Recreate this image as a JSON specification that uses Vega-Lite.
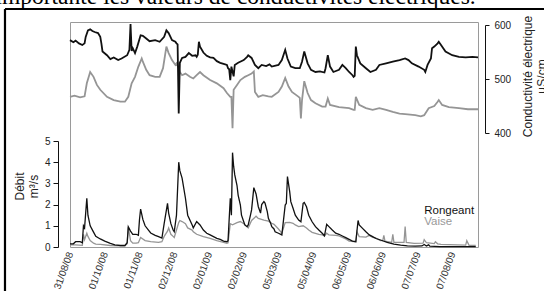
{
"$schema": "https://vega.github.io/schema/vega-lite/v6.json",
"width": 408,
"height": 225,
"autosize": {"type": "none"},
"padding": {"left": 70, "top": 22, "right": 66, "bottom": 44},
"background": "white",
"config": {"view": {"stroke": "#9a9a9a", "strokeWidth": 1}, "font": "Liberation Sans", "axis": {"grid": false, "labelFont": "Liberation Sans", "titleFont": "Liberation Sans"}},
"datasets": {
"cond": [
{"date":"2008-08-31","site":"Vaise","value":467},{"date":"2008-09-04","site":"Vaise","value":469},{"date":"2008-09-09","site":"Vaise","value":466},{"date":"2008-09-13","site":"Vaise","value":468},{"date":"2008-09-15","site":"Vaise","value":492},{"date":"2008-09-18","site":"Vaise","value":513},{"date":"2008-09-21","site":"Vaise","value":504},{"date":"2008-09-24","site":"Vaise","value":489},{"date":"2008-09-27","site":"Vaise","value":480},{"date":"2008-10-03","site":"Vaise","value":467},{"date":"2008-10-09","site":"Vaise","value":461},{"date":"2008-10-15","site":"Vaise","value":458},{"date":"2008-10-19","site":"Vaise","value":458},{"date":"2008-10-22","site":"Vaise","value":467},{"date":"2008-10-25","site":"Vaise","value":492},{"date":"2008-10-28","site":"Vaise","value":504},{"date":"2008-10-31","site":"Vaise","value":523},{"date":"2008-11-03","site":"Vaise","value":538},{"date":"2008-11-04","site":"Vaise","value":532},{"date":"2008-11-07","site":"Vaise","value":517},{"date":"2008-11-10","site":"Vaise","value":507},{"date":"2008-11-15","site":"Vaise","value":504},{"date":"2008-11-19","site":"Vaise","value":504},{"date":"2008-11-22","site":"Vaise","value":520},{"date":"2008-11-25","site":"Vaise","value":560},{"date":"2008-11-27","site":"Vaise","value":548},{"date":"2008-11-30","site":"Vaise","value":535},{"date":"2008-12-03","site":"Vaise","value":526},{"date":"2008-12-04","site":"Vaise","value":529},{"date":"2008-12-06","site":"Vaise","value":520},{"date":"2008-12-07","site":"Vaise","value":513},{"date":"2008-12-09","site":"Vaise","value":507},{"date":"2008-12-12","site":"Vaise","value":510},{"date":"2008-12-16","site":"Vaise","value":504},{"date":"2008-12-19","site":"Vaise","value":501},{"date":"2008-12-22","site":"Vaise","value":507},{"date":"2008-12-25","site":"Vaise","value":513},{"date":"2008-12-28","site":"Vaise","value":507},{"date":"2009-01-03","site":"Vaise","value":498},{"date":"2009-01-09","site":"Vaise","value":492},{"date":"2009-01-15","site":"Vaise","value":483},{"date":"2009-01-18","site":"Vaise","value":474},{"date":"2009-01-21","site":"Vaise","value":467},{"date":"2009-01-22","site":"Vaise","value":467},{"date":"2009-01-23","site":"Vaise","value":409},{"date":"2009-01-24","site":"Vaise","value":480},{"date":"2009-01-27","site":"Vaise","value":489},{"date":"2009-01-30","site":"Vaise","value":498},{"date":"2009-02-03","site":"Vaise","value":504},{"date":"2009-02-06","site":"Vaise","value":507},{"date":"2009-02-09","site":"Vaise","value":510},{"date":"2009-02-11","site":"Vaise","value":514},{"date":"2009-02-12","site":"Vaise","value":476},{"date":"2009-02-15","site":"Vaise","value":467},{"date":"2009-02-19","site":"Vaise","value":470},{"date":"2009-02-24","site":"Vaise","value":468},{"date":"2009-02-27","site":"Vaise","value":467},{"date":"2009-03-05","site":"Vaise","value":476},{"date":"2009-03-08","site":"Vaise","value":486},{"date":"2009-03-11","site":"Vaise","value":502},{"date":"2009-03-14","site":"Vaise","value":486},{"date":"2009-03-17","site":"Vaise","value":476},{"date":"2009-03-23","site":"Vaise","value":467},{"date":"2009-03-24","site":"Vaise","value":465},{"date":"2009-03-25","site":"Vaise","value":427},{"date":"2009-03-26","site":"Vaise","value":461},{"date":"2009-03-28","site":"Vaise","value":496},{"date":"2009-03-31","site":"Vaise","value":474},{"date":"2009-04-03","site":"Vaise","value":461},{"date":"2009-04-07","site":"Vaise","value":455},{"date":"2009-04-13","site":"Vaise","value":449},{"date":"2009-04-16","site":"Vaise","value":449},{"date":"2009-04-18","site":"Vaise","value":464},{"date":"2009-04-20","site":"Vaise","value":452},{"date":"2009-04-28","site":"Vaise","value":448},{"date":"2009-05-07","site":"Vaise","value":446},{"date":"2009-05-11","site":"Vaise","value":443},{"date":"2009-05-12","site":"Vaise","value":443},{"date":"2009-05-13","site":"Vaise","value":467},{"date":"2009-05-16","site":"Vaise","value":452},{"date":"2009-05-22","site":"Vaise","value":446},{"date":"2009-05-28","site":"Vaise","value":443},{"date":"2009-06-03","site":"Vaise","value":446},{"date":"2009-06-09","site":"Vaise","value":443},{"date":"2009-06-15","site":"Vaise","value":439},{"date":"2009-06-21","site":"Vaise","value":436},{"date":"2009-06-26","site":"Vaise","value":435},{"date":"2009-07-05","site":"Vaise","value":433},{"date":"2009-07-10","site":"Vaise","value":431},{"date":"2009-07-13","site":"Vaise","value":433},{"date":"2009-07-17","site":"Vaise","value":446},{"date":"2009-07-22","site":"Vaise","value":450},{"date":"2009-07-25","site":"Vaise","value":458},{"date":"2009-07-26","site":"Vaise","value":461},{"date":"2009-07-29","site":"Vaise","value":452},{"date":"2009-08-04","site":"Vaise","value":448},{"date":"2009-08-13","site":"Vaise","value":446},{"date":"2009-08-21","site":"Vaise","value":444},{"date":"2009-08-30","site":"Vaise","value":444},
{"date":"2008-08-31","site":"Rongeant","value":572},{"date":"2008-09-03","site":"Rongeant","value":568},{"date":"2008-09-05","site":"Rongeant","value":571},{"date":"2008-09-08","site":"Rongeant","value":566},{"date":"2008-09-11","site":"Rongeant","value":563},{"date":"2008-09-13","site":"Rongeant","value":566},{"date":"2008-09-14","site":"Rongeant","value":578},{"date":"2008-09-16","site":"Rongeant","value":590},{"date":"2008-09-18","site":"Rongeant","value":592},{"date":"2008-09-20","site":"Rongeant","value":589},{"date":"2008-09-22","site":"Rongeant","value":587},{"date":"2008-09-25","site":"Rongeant","value":585},{"date":"2008-09-27","site":"Rongeant","value":578},{"date":"2008-09-28","site":"Rongeant","value":566},{"date":"2008-09-29","site":"Rongeant","value":551},{"date":"2008-10-03","site":"Rongeant","value":544},{"date":"2008-10-06","site":"Rongeant","value":537},{"date":"2008-10-09","site":"Rongeant","value":540},{"date":"2008-10-13","site":"Rongeant","value":535},{"date":"2008-10-16","site":"Rongeant","value":538},{"date":"2008-10-21","site":"Rongeant","value":544},{"date":"2008-10-23","site":"Rongeant","value":554},{"date":"2008-10-24","site":"Rongeant","value":602},{"date":"2008-10-25","site":"Rongeant","value":552},{"date":"2008-10-26","site":"Rongeant","value":557},{"date":"2008-10-28","site":"Rongeant","value":548},{"date":"2008-10-30","site":"Rongeant","value":560},{"date":"2008-11-02","site":"Rongeant","value":581},{"date":"2008-11-04","site":"Rongeant","value":580},{"date":"2008-11-07","site":"Rongeant","value":575},{"date":"2008-11-10","site":"Rongeant","value":570},{"date":"2008-11-15","site":"Rongeant","value":572},{"date":"2008-11-19","site":"Rongeant","value":569},{"date":"2008-11-23","site":"Rongeant","value":578},{"date":"2008-11-25","site":"Rongeant","value":590},{"date":"2008-11-27","site":"Rongeant","value":585},{"date":"2008-11-30","site":"Rongeant","value":572},{"date":"2008-12-03","site":"Rongeant","value":569},{"date":"2008-12-04","site":"Rongeant","value":566},{"date":"2008-12-05","site":"Rongeant","value":564},{"date":"2008-12-06","site":"Rongeant","value":436},{"date":"2008-12-07","site":"Rongeant","value":530},{"date":"2008-12-09","site":"Rongeant","value":539},{"date":"2008-12-12","site":"Rongeant","value":541},{"date":"2008-12-15","site":"Rongeant","value":548},{"date":"2008-12-18","site":"Rongeant","value":543},{"date":"2008-12-21","site":"Rongeant","value":544},{"date":"2008-12-22","site":"Rongeant","value":541},{"date":"2008-12-23","site":"Rongeant","value":545},{"date":"2008-12-24","site":"Rongeant","value":569},{"date":"2008-12-25","site":"Rongeant","value":560},{"date":"2008-12-28","site":"Rongeant","value":549},{"date":"2008-12-31","site":"Rongeant","value":543},{"date":"2009-01-03","site":"Rongeant","value":540},{"date":"2009-01-06","site":"Rongeant","value":539},{"date":"2009-01-09","site":"Rongeant","value":533},{"date":"2009-01-12","site":"Rongeant","value":530},{"date":"2009-01-15","site":"Rongeant","value":528},{"date":"2009-01-18","site":"Rongeant","value":526},{"date":"2009-01-19","site":"Rongeant","value":520},{"date":"2009-01-20","site":"Rongeant","value":518},{"date":"2009-01-21","site":"Rongeant","value":498},{"date":"2009-01-22","site":"Rongeant","value":523},{"date":"2009-01-24","site":"Rongeant","value":505},{"date":"2009-01-25","site":"Rongeant","value":526},{"date":"2009-01-28","site":"Rongeant","value":530},{"date":"2009-02-02","site":"Rongeant","value":535},{"date":"2009-02-05","site":"Rongeant","value":541},{"date":"2009-02-06","site":"Rongeant","value":544},{"date":"2009-02-09","site":"Rongeant","value":539},{"date":"2009-02-12","site":"Rongeant","value":526},{"date":"2009-02-15","site":"Rongeant","value":520},{"date":"2009-02-18","site":"Rongeant","value":526},{"date":"2009-02-22","site":"Rongeant","value":524},{"date":"2009-02-25","site":"Rongeant","value":527},{"date":"2009-02-27","site":"Rongeant","value":523},{"date":"2009-03-05","site":"Rongeant","value":526},{"date":"2009-03-08","site":"Rongeant","value":535},{"date":"2009-03-11","site":"Rongeant","value":554},{"date":"2009-03-13","site":"Rongeant","value":538},{"date":"2009-03-16","site":"Rongeant","value":523},{"date":"2009-03-20","site":"Rongeant","value":520},{"date":"2009-03-24","site":"Rongeant","value":520},{"date":"2009-03-26","site":"Rongeant","value":532},{"date":"2009-03-28","site":"Rongeant","value":551},{"date":"2009-03-31","site":"Rongeant","value":529},{"date":"2009-04-03","site":"Rongeant","value":517},{"date":"2009-04-07","site":"Rongeant","value":513},{"date":"2009-04-11","site":"Rongeant","value":514},{"date":"2009-04-15","site":"Rongeant","value":512},{"date":"2009-04-16","site":"Rongeant","value":520},{"date":"2009-04-18","site":"Rongeant","value":544},{"date":"2009-04-20","site":"Rongeant","value":523},{"date":"2009-04-23","site":"Rongeant","value":513},{"date":"2009-04-28","site":"Rongeant","value":517},{"date":"2009-05-01","site":"Rongeant","value":526},{"date":"2009-05-04","site":"Rongeant","value":520},{"date":"2009-05-07","site":"Rongeant","value":513},{"date":"2009-05-10","site":"Rongeant","value":507},{"date":"2009-05-11","site":"Rongeant","value":504},{"date":"2009-05-12","site":"Rongeant","value":506},{"date":"2009-05-13","site":"Rongeant","value":560},{"date":"2009-05-14","site":"Rongeant","value":544},{"date":"2009-05-17","site":"Rongeant","value":529},{"date":"2009-05-22","site":"Rongeant","value":520},{"date":"2009-05-26","site":"Rongeant","value":513},{"date":"2009-05-31","site":"Rongeant","value":517},{"date":"2009-06-03","site":"Rongeant","value":526},{"date":"2009-06-09","site":"Rongeant","value":529},{"date":"2009-06-15","site":"Rongeant","value":532},{"date":"2009-06-21","site":"Rongeant","value":535},{"date":"2009-06-26","site":"Rongeant","value":538},{"date":"2009-06-29","site":"Rongeant","value":535},{"date":"2009-07-02","site":"Rongeant","value":529},{"date":"2009-07-08","site":"Rongeant","value":523},{"date":"2009-07-13","site":"Rongeant","value":517},{"date":"2009-07-14","site":"Rongeant","value":513},{"date":"2009-07-16","site":"Rongeant","value":526},{"date":"2009-07-19","site":"Rongeant","value":538},{"date":"2009-07-20","site":"Rongeant","value":557},{"date":"2009-07-22","site":"Rongeant","value":560},{"date":"2009-07-25","site":"Rongeant","value":566},{"date":"2009-07-26","site":"Rongeant","value":569},{"date":"2009-07-28","site":"Rongeant","value":563},{"date":"2009-08-01","site":"Rongeant","value":551},{"date":"2009-08-07","site":"Rongeant","value":544},{"date":"2009-08-13","site":"Rongeant","value":541},{"date":"2009-08-19","site":"Rongeant","value":540},{"date":"2009-08-25","site":"Rongeant","value":541},{"date":"2009-08-30","site":"Rongeant","value":540}
],
"debit": [
{"date":"2008-08-31","site":"Vaise","value":0.1},{"date":"2008-09-05","site":"Vaise","value":0.1},{"date":"2008-09-11","site":"Vaise","value":0.08},{"date":"2008-09-12","site":"Vaise","value":0.6},{"date":"2008-09-13","site":"Vaise","value":0.35},{"date":"2008-09-15","site":"Vaise","value":0.65},{"date":"2008-09-16","site":"Vaise","value":0.5},{"date":"2008-09-18","site":"Vaise","value":0.3},{"date":"2008-09-21","site":"Vaise","value":0.18},{"date":"2008-09-23","site":"Vaise","value":0.14},{"date":"2008-09-27","site":"Vaise","value":0.12},{"date":"2008-10-06","site":"Vaise","value":0.07},{"date":"2008-10-15","site":"Vaise","value":0.05},{"date":"2008-10-19","site":"Vaise","value":0.05},{"date":"2008-10-21","site":"Vaise","value":0.15},{"date":"2008-10-22","site":"Vaise","value":0.95},{"date":"2008-10-24","site":"Vaise","value":0.3},{"date":"2008-10-26","site":"Vaise","value":0.18},{"date":"2008-10-29","site":"Vaise","value":0.18},{"date":"2008-10-31","site":"Vaise","value":0.2},{"date":"2008-11-02","site":"Vaise","value":0.45},{"date":"2008-11-06","site":"Vaise","value":0.3},{"date":"2008-11-11","site":"Vaise","value":0.25},{"date":"2008-11-18","site":"Vaise","value":0.22},{"date":"2008-11-21","site":"Vaise","value":0.25},{"date":"2008-11-23","site":"Vaise","value":0.5},{"date":"2008-11-26","site":"Vaise","value":0.75},{"date":"2008-11-27","site":"Vaise","value":0.9},{"date":"2008-11-29","site":"Vaise","value":0.6},{"date":"2008-12-01","site":"Vaise","value":0.5},{"date":"2008-12-02","site":"Vaise","value":0.45},{"date":"2008-12-04","site":"Vaise","value":0.8},{"date":"2008-12-06","site":"Vaise","value":1.15},{"date":"2008-12-07","site":"Vaise","value":1.25},{"date":"2008-12-09","site":"Vaise","value":1.2},{"date":"2008-12-12","site":"Vaise","value":1.1},{"date":"2008-12-14","site":"Vaise","value":0.9},{"date":"2008-12-18","site":"Vaise","value":0.8},{"date":"2008-12-19","site":"Vaise","value":0.72},{"date":"2008-12-22","site":"Vaise","value":0.6},{"date":"2008-12-28","site":"Vaise","value":0.49},{"date":"2009-01-03","site":"Vaise","value":0.41},{"date":"2009-01-09","site":"Vaise","value":0.3},{"date":"2009-01-15","site":"Vaise","value":0.22},{"date":"2009-01-18","site":"Vaise","value":0.17},{"date":"2009-01-19","site":"Vaise","value":0.2},{"date":"2009-01-21","site":"Vaise","value":1.1},{"date":"2009-01-23","site":"Vaise","value":1.05},{"date":"2009-01-27","site":"Vaise","value":1.15},{"date":"2009-01-30","site":"Vaise","value":1.2},{"date":"2009-02-02","site":"Vaise","value":1.1},{"date":"2009-02-05","site":"Vaise","value":0.95},{"date":"2009-02-06","site":"Vaise","value":0.9},{"date":"2009-02-09","site":"Vaise","value":1.25},{"date":"2009-02-13","site":"Vaise","value":1.45},{"date":"2009-02-15","site":"Vaise","value":1.35},{"date":"2009-02-20","site":"Vaise","value":1.27},{"date":"2009-02-24","site":"Vaise","value":1.22},{"date":"2009-02-27","site":"Vaise","value":1.12},{"date":"2009-03-01","site":"Vaise","value":1.07},{"date":"2009-03-05","site":"Vaise","value":0.85},{"date":"2009-03-08","site":"Vaise","value":0.65},{"date":"2009-03-11","site":"Vaise","value":1.15},{"date":"2009-03-15","site":"Vaise","value":1.16},{"date":"2009-03-18","site":"Vaise","value":1.12},{"date":"2009-03-20","site":"Vaise","value":1.04},{"date":"2009-03-23","site":"Vaise","value":0.96},{"date":"2009-03-27","site":"Vaise","value":1.0},{"date":"2009-03-30","site":"Vaise","value":0.9},{"date":"2009-04-01","site":"Vaise","value":0.8},{"date":"2009-04-04","site":"Vaise","value":0.69},{"date":"2009-04-10","site":"Vaise","value":0.6},{"date":"2009-04-13","site":"Vaise","value":0.57},{"date":"2009-04-15","site":"Vaise","value":0.52},{"date":"2009-04-17","site":"Vaise","value":0.65},{"date":"2009-04-19","site":"Vaise","value":0.57},{"date":"2009-04-25","site":"Vaise","value":0.55},{"date":"2009-04-28","site":"Vaise","value":0.52},{"date":"2009-05-01","site":"Vaise","value":0.45},{"date":"2009-05-04","site":"Vaise","value":0.38},{"date":"2009-05-07","site":"Vaise","value":0.28},{"date":"2009-05-13","site":"Vaise","value":0.25},{"date":"2009-05-14","site":"Vaise","value":0.72},{"date":"2009-05-16","site":"Vaise","value":0.49},{"date":"2009-05-22","site":"Vaise","value":0.47},{"date":"2009-05-25","site":"Vaise","value":0.55},{"date":"2009-05-28","site":"Vaise","value":0.45},{"date":"2009-05-31","site":"Vaise","value":0.42},{"date":"2009-06-04","site":"Vaise","value":0.3},{"date":"2009-06-06","site":"Vaise","value":0.3},{"date":"2009-06-07","site":"Vaise","value":0.55},{"date":"2009-06-08","site":"Vaise","value":0.28},{"date":"2009-06-14","site":"Vaise","value":0.22},{"date":"2009-06-15","site":"Vaise","value":0.6},{"date":"2009-06-16","site":"Vaise","value":0.22},{"date":"2009-06-22","site":"Vaise","value":0.22},{"date":"2009-06-25","site":"Vaise","value":0.22},{"date":"2009-06-26","site":"Vaise","value":0.96},{"date":"2009-06-27","site":"Vaise","value":0.22},{"date":"2009-07-04","site":"Vaise","value":0.17},{"date":"2009-07-12","site":"Vaise","value":0.18},{"date":"2009-07-13","site":"Vaise","value":0.35},{"date":"2009-07-15","site":"Vaise","value":0.2},{"date":"2009-07-22","site":"Vaise","value":0.16},{"date":"2009-07-23","site":"Vaise","value":0.25},{"date":"2009-07-25","site":"Vaise","value":0.15},{"date":"2009-07-28","site":"Vaise","value":0.12},{"date":"2009-08-12","site":"Vaise","value":0.1},{"date":"2009-08-19","site":"Vaise","value":0.09},{"date":"2009-08-20","site":"Vaise","value":0.3},{"date":"2009-08-22","site":"Vaise","value":0.08},{"date":"2009-08-28","site":"Vaise","value":0.07},
{"date":"2008-08-31","site":"Rongeant","value":0.15},{"date":"2008-09-03","site":"Rongeant","value":0.15},{"date":"2008-09-05","site":"Rongeant","value":0.25},{"date":"2008-09-09","site":"Rongeant","value":0.25},{"date":"2008-09-11","site":"Rongeant","value":0.2},{"date":"2008-09-12","site":"Rongeant","value":1.0},{"date":"2008-09-13","site":"Rongeant","value":0.9},{"date":"2008-09-15","site":"Rongeant","value":2.3},{"date":"2008-09-16","site":"Rongeant","value":1.5},{"date":"2008-09-18","site":"Rongeant","value":1.0},{"date":"2008-09-21","site":"Rongeant","value":0.7},{"date":"2008-09-23","site":"Rongeant","value":0.5},{"date":"2008-09-27","site":"Rongeant","value":0.38},{"date":"2008-10-01","site":"Rongeant","value":0.28},{"date":"2008-10-06","site":"Rongeant","value":0.17},{"date":"2008-10-10","site":"Rongeant","value":0.1},{"date":"2008-10-15","site":"Rongeant","value":0.07},{"date":"2008-10-19","site":"Rongeant","value":0.07},{"date":"2008-10-21","site":"Rongeant","value":0.2},{"date":"2008-10-22","site":"Rongeant","value":0.95},{"date":"2008-10-24","site":"Rongeant","value":0.75},{"date":"2008-10-26","site":"Rongeant","value":0.6},{"date":"2008-10-29","site":"Rongeant","value":0.6},{"date":"2008-10-31","site":"Rongeant","value":0.55},{"date":"2008-11-01","site":"Rongeant","value":1.3},{"date":"2008-11-02","site":"Rongeant","value":1.79},{"date":"2008-11-04","site":"Rongeant","value":1.3},{"date":"2008-11-06","site":"Rongeant","value":1.0},{"date":"2008-11-09","site":"Rongeant","value":0.8},{"date":"2008-11-11","site":"Rongeant","value":0.66},{"date":"2008-11-15","site":"Rongeant","value":0.55},{"date":"2008-11-18","site":"Rongeant","value":0.49},{"date":"2008-11-21","site":"Rongeant","value":0.42},{"date":"2008-11-23","site":"Rongeant","value":1.1},{"date":"2008-11-26","site":"Rongeant","value":2.06},{"date":"2008-11-27","site":"Rongeant","value":1.6},{"date":"2008-11-29","site":"Rongeant","value":1.1},{"date":"2008-12-01","site":"Rongeant","value":0.8},{"date":"2008-12-02","site":"Rongeant","value":0.72},{"date":"2008-12-04","site":"Rongeant","value":1.5},{"date":"2008-12-06","site":"Rongeant","value":4.0},{"date":"2008-12-07","site":"Rongeant","value":3.6},{"date":"2008-12-09","site":"Rongeant","value":3.25},{"date":"2008-12-12","site":"Rongeant","value":2.3},{"date":"2008-12-14","site":"Rongeant","value":1.5},{"date":"2008-12-18","site":"Rongeant","value":1.04},{"date":"2008-12-19","site":"Rongeant","value":0.9},{"date":"2008-12-22","site":"Rongeant","value":1.2},{"date":"2008-12-25","site":"Rongeant","value":1.04},{"date":"2008-12-28","site":"Rongeant","value":0.8},{"date":"2008-12-31","site":"Rongeant","value":0.65},{"date":"2009-01-03","site":"Rongeant","value":0.57},{"date":"2009-01-06","site":"Rongeant","value":0.49},{"date":"2009-01-09","site":"Rongeant","value":0.41},{"date":"2009-01-12","site":"Rongeant","value":0.36},{"date":"2009-01-15","site":"Rongeant","value":0.28},{"date":"2009-01-18","site":"Rongeant","value":0.25},{"date":"2009-01-19","site":"Rongeant","value":0.3},{"date":"2009-01-21","site":"Rongeant","value":2.3},{"date":"2009-01-22","site":"Rongeant","value":1.5},{"date":"2009-01-23","site":"Rongeant","value":4.45},{"date":"2009-01-24","site":"Rongeant","value":3.8},{"date":"2009-01-25","site":"Rongeant","value":3.4},{"date":"2009-01-27","site":"Rongeant","value":2.9},{"date":"2009-01-28","site":"Rongeant","value":2.45},{"date":"2009-01-30","site":"Rongeant","value":1.98},{"date":"2009-01-31","site":"Rongeant","value":1.5},{"date":"2009-02-02","site":"Rongeant","value":1.19},{"date":"2009-02-03","site":"Rongeant","value":1.04},{"date":"2009-02-05","site":"Rongeant","value":0.96},{"date":"2009-02-06","site":"Rongeant","value":1.04},{"date":"2009-02-08","site":"Rongeant","value":1.5},{"date":"2009-02-09","site":"Rongeant","value":1.75},{"date":"2009-02-11","site":"Rongeant","value":2.8},{"date":"2009-02-13","site":"Rongeant","value":2.5},{"date":"2009-02-14","site":"Rongeant","value":2.2},{"date":"2009-02-15","site":"Rongeant","value":1.9},{"date":"2009-02-17","site":"Rongeant","value":1.6},{"date":"2009-02-18","site":"Rongeant","value":2.0},{"date":"2009-02-20","site":"Rongeant","value":2.14},{"date":"2009-02-21","site":"Rongeant","value":2.07},{"date":"2009-02-23","site":"Rongeant","value":1.67},{"date":"2009-02-24","site":"Rongeant","value":1.35},{"date":"2009-02-26","site":"Rongeant","value":1.12},{"date":"2009-02-27","site":"Rongeant","value":0.96},{"date":"2009-03-01","site":"Rongeant","value":0.85},{"date":"2009-03-02","site":"Rongeant","value":0.72},{"date":"2009-03-05","site":"Rongeant","value":0.65},{"date":"2009-03-08","site":"Rongeant","value":0.57},{"date":"2009-03-11","site":"Rongeant","value":1.98},{"date":"2009-03-12","site":"Rongeant","value":2.06},{"date":"2009-03-13","site":"Rongeant","value":3.32},{"date":"2009-03-15","site":"Rongeant","value":2.61},{"date":"2009-03-16","site":"Rongeant","value":2.14},{"date":"2009-03-18","site":"Rongeant","value":1.83},{"date":"2009-03-20","site":"Rongeant","value":1.5},{"date":"2009-03-23","site":"Rongeant","value":1.27},{"date":"2009-03-25","site":"Rongeant","value":1.19},{"date":"2009-03-27","site":"Rongeant","value":2.06},{"date":"2009-03-28","site":"Rongeant","value":2.1},{"date":"2009-03-30","site":"Rongeant","value":1.9},{"date":"2009-04-01","site":"Rongeant","value":1.5},{"date":"2009-04-04","site":"Rongeant","value":1.19},{"date":"2009-04-07","site":"Rongeant","value":0.96},{"date":"2009-04-10","site":"Rongeant","value":0.8},{"date":"2009-04-13","site":"Rongeant","value":0.65},{"date":"2009-04-15","site":"Rongeant","value":0.53},{"date":"2009-04-17","site":"Rongeant","value":1.07},{"date":"2009-04-19","site":"Rongeant","value":0.96},{"date":"2009-04-22","site":"Rongeant","value":0.8},{"date":"2009-04-25","site":"Rongeant","value":0.65},{"date":"2009-04-28","site":"Rongeant","value":0.6},{"date":"2009-05-01","site":"Rongeant","value":0.52},{"date":"2009-05-04","site":"Rongeant","value":0.44},{"date":"2009-05-07","site":"Rongeant","value":0.36},{"date":"2009-05-10","site":"Rongeant","value":0.28},{"date":"2009-05-13","site":"Rongeant","value":0.25},{"date":"2009-05-15","site":"Rongeant","value":1.25},{"date":"2009-05-16","site":"Rongeant","value":1.04},{"date":"2009-05-19","site":"Rongeant","value":0.88},{"date":"2009-05-22","site":"Rongeant","value":0.72},{"date":"2009-05-25","site":"Rongeant","value":0.57},{"date":"2009-05-28","site":"Rongeant","value":0.49},{"date":"2009-05-31","site":"Rongeant","value":0.4},{"date":"2009-06-04","site":"Rongeant","value":0.33},{"date":"2009-06-10","site":"Rongeant","value":0.22},{"date":"2009-06-16","site":"Rongeant","value":0.14},{"date":"2009-06-22","site":"Rongeant","value":0.09},{"date":"2009-06-28","site":"Rongeant","value":0.05},{"date":"2009-07-05","site":"Rongeant","value":0.04},{"date":"2009-07-11","site":"Rongeant","value":0.05},{"date":"2009-07-13","site":"Rongeant","value":0.12},{"date":"2009-07-15","site":"Rongeant","value":0.05},{"date":"2009-07-17","site":"Rongeant","value":0.1},{"date":"2009-07-18","site":"Rongeant","value":0.04},{"date":"2009-07-27","site":"Rongeant","value":0.02},{"date":"2009-08-12","site":"Rongeant","value":0.02},{"date":"2009-08-28","site":"Rongeant","value":0.02}
]
},
"layer": [
{"layer": [
{"data": {"name": "cond"},
 "mark": {"type": "line", "strokeWidth": 1.8},
 "encoding": {
  "x": {"field": "date", "type": "temporal",
   "scale": {"type": "utc", "nice": false, "domain": [{"year": 2008, "month": 8, "date": 31, "utc": true}, {"year": 2009, "month": 8, "date": 30, "utc": true}]},
   "axis": {"title": null, "domain": false, "ticks": false, "tickSize": 0, "labelAngle": -70, "labelFontSize": 10, "labelColor": "#333333", "labelPadding": 5, "labelOverlap": false, "labelBound": false, "labelFlush": false, "labelExpr": "utcFormat(datum.value, '%d/%m/%y')", "values": [{"year": 2008, "month": 8, "date": 31, "utc": true}, {"year": 2008, "month": 10, "date": 1, "utc": true}, {"year": 2008, "month": 11, "date": 1, "utc": true}, {"year": 2008, "month": 12, "date": 2, "utc": true}, {"year": 2009, "month": 1, "date": 2, "utc": true}, {"year": 2009, "month": 2, "date": 2, "utc": true}, {"year": 2009, "month": 3, "date": 5, "utc": true}, {"year": 2009, "month": 4, "date": 5, "utc": true}, {"year": 2009, "month": 5, "date": 6, "utc": true}, {"year": 2009, "month": 6, "date": 6, "utc": true}, {"year": 2009, "month": 7, "date": 7, "utc": true}, {"year": 2009, "month": 8, "date": 7, "utc": true}]}},
  "y": {"field": "value", "type": "quantitative",
   "scale": {"domain": [400, 600], "range": [111, 3], "nice": false, "zero": false},
   "axis": {"orient": "right", "offset": 7, "values": [400, 500, 600], "grid": false, "domainColor": "#111111", "tickColor": "#111111", "tickSize": 4, "labelFontSize": 10, "labelColor": "#222222", "labelPadding": 5, "labelFlush": false, "title": ["Conductivité électrique", "µS/cm"], "titleAngle": -90, "titleFontSize": 12, "titleFontWeight": "normal", "titleColor": "#222222", "titlePadding": 10, "titleY": 54}},
  "color": {"field": "site", "type": "nominal", "scale": {"domain": ["Rongeant", "Vaise"], "range": ["#111111", "#959595"]}, "legend": null}
 }},
{"data": {"values": [{}]},
 "mark": {"type": "rule", "color": "black", "strokeWidth": 2.2},
 "encoding": {
  "x": {"datum": {"year": 2008, "month": 7, "date": 4, "utc": true}, "type": "temporal",
   "scale": {"type": "utc", "nice": false, "domain": [{"year": 2008, "month": 8, "date": 31, "utc": true}, {"year": 2009, "month": 8, "date": 30, "utc": true}]},
   "axis": {"title": null, "domain": false, "ticks": false, "tickSize": 0, "labelAngle": -70, "labelFontSize": 10, "labelColor": "#333333", "labelPadding": 5, "labelOverlap": false, "labelBound": false, "labelFlush": false, "labelExpr": "utcFormat(datum.value, '%d/%m/%y')", "values": [{"year": 2008, "month": 8, "date": 31, "utc": true}, {"year": 2008, "month": 10, "date": 1, "utc": true}, {"year": 2008, "month": 11, "date": 1, "utc": true}, {"year": 2008, "month": 12, "date": 2, "utc": true}, {"year": 2009, "month": 1, "date": 2, "utc": true}, {"year": 2009, "month": 2, "date": 2, "utc": true}, {"year": 2009, "month": 3, "date": 5, "utc": true}, {"year": 2009, "month": 4, "date": 5, "utc": true}, {"year": 2009, "month": 5, "date": 6, "utc": true}, {"year": 2009, "month": 6, "date": 6, "utc": true}, {"year": 2009, "month": 7, "date": 7, "utc": true}, {"year": 2009, "month": 8, "date": 7, "utc": true}]}},
  "y": {"datum": 629.6, "type": "quantitative",
   "scale": {"domain": [400, 600], "range": [111, 3], "nice": false, "zero": false},
   "axis": {"orient": "right", "offset": 7, "values": [400, 500, 600], "grid": false, "domainColor": "#111111", "tickColor": "#111111", "tickSize": 4, "labelFontSize": 10, "labelColor": "#222222", "labelPadding": 5, "labelFlush": false, "title": ["Conductivité électrique", "µS/cm"], "titleAngle": -90, "titleFontSize": 12, "titleFontWeight": "normal", "titleColor": "#222222", "titlePadding": 10, "titleY": 54}},
  "y2": {"datum": 0}
 }},
{"data": {"values": [{}]},
 "mark": {"type": "rule", "color": "black", "strokeWidth": 2.2},
 "encoding": {
  "x": {"datum": {"year": 2008, "month": 7, "date": 4, "utc": true}, "type": "temporal",
   "scale": {"type": "utc", "nice": false, "domain": [{"year": 2008, "month": 8, "date": 31, "utc": true}, {"year": 2009, "month": 8, "date": 30, "utc": true}]},
   "axis": {"title": null, "domain": false, "ticks": false, "tickSize": 0, "labelAngle": -70, "labelFontSize": 10, "labelColor": "#333333", "labelPadding": 5, "labelOverlap": false, "labelBound": false, "labelFlush": false, "labelExpr": "utcFormat(datum.value, '%d/%m/%y')", "values": [{"year": 2008, "month": 8, "date": 31, "utc": true}, {"year": 2008, "month": 10, "date": 1, "utc": true}, {"year": 2008, "month": 11, "date": 1, "utc": true}, {"year": 2008, "month": 12, "date": 2, "utc": true}, {"year": 2009, "month": 1, "date": 2, "utc": true}, {"year": 2009, "month": 2, "date": 2, "utc": true}, {"year": 2009, "month": 3, "date": 5, "utc": true}, {"year": 2009, "month": 4, "date": 5, "utc": true}, {"year": 2009, "month": 5, "date": 6, "utc": true}, {"year": 2009, "month": 6, "date": 6, "utc": true}, {"year": 2009, "month": 7, "date": 7, "utc": true}, {"year": 2009, "month": 8, "date": 7, "utc": true}]}},
  "x2": {"datum": {"year": 2010, "month": 6, "date": 1, "utc": true}},
  "y": {"datum": 629.6, "type": "quantitative",
   "scale": {"domain": [400, 600], "range": [111, 3], "nice": false, "zero": false},
   "axis": {"orient": "right", "offset": 7, "values": [400, 500, 600], "grid": false, "domainColor": "#111111", "tickColor": "#111111", "tickSize": 4, "labelFontSize": 10, "labelColor": "#222222", "labelPadding": 5, "labelFlush": false, "title": ["Conductivité électrique", "µS/cm"], "titleAngle": -90, "titleFontSize": 12, "titleFontWeight": "normal", "titleColor": "#222222", "titlePadding": 10, "titleY": 54}}
 }},
{"data": {"values": [{}]},
 "mark": {"type": "text", "text": "importante les valeurs de conductivités électriques.", "align": "left", "baseline": "alphabetic", "font": "Liberation Serif", "fontSize": 23.5, "color": "black"},
 "encoding": {
  "x": {"datum": {"year": 2008, "month": 6, "date": 25, "hours": 12, "utc": true}, "type": "temporal",
   "scale": {"type": "utc", "nice": false, "domain": [{"year": 2008, "month": 8, "date": 31, "utc": true}, {"year": 2009, "month": 8, "date": 30, "utc": true}]},
   "axis": {"title": null, "domain": false, "ticks": false, "tickSize": 0, "labelAngle": -70, "labelFontSize": 10, "labelColor": "#333333", "labelPadding": 5, "labelOverlap": false, "labelBound": false, "labelFlush": false, "labelExpr": "utcFormat(datum.value, '%d/%m/%y')", "values": [{"year": 2008, "month": 8, "date": 31, "utc": true}, {"year": 2008, "month": 10, "date": 1, "utc": true}, {"year": 2008, "month": 11, "date": 1, "utc": true}, {"year": 2008, "month": 12, "date": 2, "utc": true}, {"year": 2009, "month": 1, "date": 2, "utc": true}, {"year": 2009, "month": 2, "date": 2, "utc": true}, {"year": 2009, "month": 3, "date": 5, "utc": true}, {"year": 2009, "month": 4, "date": 5, "utc": true}, {"year": 2009, "month": 5, "date": 6, "utc": true}, {"year": 2009, "month": 6, "date": 6, "utc": true}, {"year": 2009, "month": 7, "date": 7, "utc": true}, {"year": 2009, "month": 8, "date": 7, "utc": true}]}},
  "y": {"datum": 638.9, "type": "quantitative",
   "scale": {"domain": [400, 600], "range": [111, 3], "nice": false, "zero": false},
   "axis": {"orient": "right", "offset": 7, "values": [400, 500, 600], "grid": false, "domainColor": "#111111", "tickColor": "#111111", "tickSize": 4, "labelFontSize": 10, "labelColor": "#222222", "labelPadding": 5, "labelFlush": false, "title": ["Conductivité électrique", "µS/cm"], "titleAngle": -90, "titleFontSize": 12, "titleFontWeight": "normal", "titleColor": "#222222", "titlePadding": 10, "titleY": 54}}
 }}
]},
{"layer": [
{"data": {"name": "debit"},
 "mark": {"type": "line", "strokeWidth": 1.3},
 "encoding": {
  "x": {"field": "date", "type": "temporal",
   "scale": {"type": "utc", "nice": false, "domain": [{"year": 2008, "month": 8, "date": 31, "utc": true}, {"year": 2009, "month": 8, "date": 30, "utc": true}]},
   "axis": {"title": null, "domain": false, "ticks": false, "tickSize": 0, "labelAngle": -70, "labelFontSize": 10, "labelColor": "#333333", "labelPadding": 5, "labelOverlap": false, "labelBound": false, "labelFlush": false, "labelExpr": "utcFormat(datum.value, '%d/%m/%y')", "values": [{"year": 2008, "month": 8, "date": 31, "utc": true}, {"year": 2008, "month": 10, "date": 1, "utc": true}, {"year": 2008, "month": 11, "date": 1, "utc": true}, {"year": 2008, "month": 12, "date": 2, "utc": true}, {"year": 2009, "month": 1, "date": 2, "utc": true}, {"year": 2009, "month": 2, "date": 2, "utc": true}, {"year": 2009, "month": 3, "date": 5, "utc": true}, {"year": 2009, "month": 4, "date": 5, "utc": true}, {"year": 2009, "month": 5, "date": 6, "utc": true}, {"year": 2009, "month": 6, "date": 6, "utc": true}, {"year": 2009, "month": 7, "date": 7, "utc": true}, {"year": 2009, "month": 8, "date": 7, "utc": true}]}},
  "y": {"field": "value", "type": "quantitative",
   "scale": {"domain": [0, 5], "range": [225, 119], "nice": false},
   "axis": {"orient": "left", "offset": 12, "values": [0, 1, 2, 3, 4, 5], "grid": false, "domainColor": "#111111", "tickColor": "#111111", "tickSize": 5, "labelFontSize": 10, "labelColor": "#222222", "labelPadding": 3, "labelFlush": false, "title": ["Débit", "m³/s"], "titleFontSize": 12, "titleFontWeight": "normal", "titleColor": "#222222", "titlePadding": 4, "titleY": 164}},
  "color": {"field": "site", "type": "nominal", "scale": {"domain": ["Rongeant", "Vaise"], "range": ["#111111", "#959595"]}, "legend": null}
 }},
{"data": {"values": [{}]},
 "mark": {"type": "text", "text": "Rongeant", "align": "left", "baseline": "alphabetic", "fontSize": 11.5, "color": "#111111", "font": "Liberation Sans"},
 "encoding": {
  "x": {"datum": {"year": 2009, "month": 7, "date": 13, "utc": true}, "type": "temporal",
   "scale": {"type": "utc", "nice": false, "domain": [{"year": 2008, "month": 8, "date": 31, "utc": true}, {"year": 2009, "month": 8, "date": 30, "utc": true}]},
   "axis": {"title": null, "domain": false, "ticks": false, "tickSize": 0, "labelAngle": -70, "labelFontSize": 10, "labelColor": "#333333", "labelPadding": 5, "labelOverlap": false, "labelBound": false, "labelFlush": false, "labelExpr": "utcFormat(datum.value, '%d/%m/%y')", "values": [{"year": 2008, "month": 8, "date": 31, "utc": true}, {"year": 2008, "month": 10, "date": 1, "utc": true}, {"year": 2008, "month": 11, "date": 1, "utc": true}, {"year": 2008, "month": 12, "date": 2, "utc": true}, {"year": 2009, "month": 1, "date": 2, "utc": true}, {"year": 2009, "month": 2, "date": 2, "utc": true}, {"year": 2009, "month": 3, "date": 5, "utc": true}, {"year": 2009, "month": 4, "date": 5, "utc": true}, {"year": 2009, "month": 5, "date": 6, "utc": true}, {"year": 2009, "month": 6, "date": 6, "utc": true}, {"year": 2009, "month": 7, "date": 7, "utc": true}, {"year": 2009, "month": 8, "date": 7, "utc": true}]}},
  "y": {"datum": 1.56, "type": "quantitative",
   "scale": {"domain": [0, 5], "range": [225, 119], "nice": false},
   "axis": {"orient": "left", "offset": 12, "values": [0, 1, 2, 3, 4, 5], "grid": false, "domainColor": "#111111", "tickColor": "#111111", "tickSize": 5, "labelFontSize": 10, "labelColor": "#222222", "labelPadding": 3, "labelFlush": false, "title": ["Débit", "m³/s"], "titleFontSize": 12, "titleFontWeight": "normal", "titleColor": "#222222", "titlePadding": 4, "titleY": 164}}
 }},
{"data": {"values": [{}]},
 "mark": {"type": "text", "text": "Vaise", "align": "left", "baseline": "alphabetic", "fontSize": 11.5, "color": "#999999", "font": "Liberation Sans"},
 "encoding": {
  "x": {"datum": {"year": 2009, "month": 7, "date": 13, "utc": true}, "type": "temporal",
   "scale": {"type": "utc", "nice": false, "domain": [{"year": 2008, "month": 8, "date": 31, "utc": true}, {"year": 2009, "month": 8, "date": 30, "utc": true}]},
   "axis": {"title": null, "domain": false, "ticks": false, "tickSize": 0, "labelAngle": -70, "labelFontSize": 10, "labelColor": "#333333", "labelPadding": 5, "labelOverlap": false, "labelBound": false, "labelFlush": false, "labelExpr": "utcFormat(datum.value, '%d/%m/%y')", "values": [{"year": 2008, "month": 8, "date": 31, "utc": true}, {"year": 2008, "month": 10, "date": 1, "utc": true}, {"year": 2008, "month": 11, "date": 1, "utc": true}, {"year": 2008, "month": 12, "date": 2, "utc": true}, {"year": 2009, "month": 1, "date": 2, "utc": true}, {"year": 2009, "month": 2, "date": 2, "utc": true}, {"year": 2009, "month": 3, "date": 5, "utc": true}, {"year": 2009, "month": 4, "date": 5, "utc": true}, {"year": 2009, "month": 5, "date": 6, "utc": true}, {"year": 2009, "month": 6, "date": 6, "utc": true}, {"year": 2009, "month": 7, "date": 7, "utc": true}, {"year": 2009, "month": 8, "date": 7, "utc": true}]}},
  "y": {"datum": 1.05, "type": "quantitative",
   "scale": {"domain": [0, 5], "range": [225, 119], "nice": false},
   "axis": {"orient": "left", "offset": 12, "values": [0, 1, 2, 3, 4, 5], "grid": false, "domainColor": "#111111", "tickColor": "#111111", "tickSize": 5, "labelFontSize": 10, "labelColor": "#222222", "labelPadding": 3, "labelFlush": false, "title": ["Débit", "m³/s"], "titleFontSize": 12, "titleFontWeight": "normal", "titleColor": "#222222", "titlePadding": 4, "titleY": 164}}
 }}
]}
],
"resolve": {"scale": {"y": "independent"}, "axis": {"y": "independent"}}
}
